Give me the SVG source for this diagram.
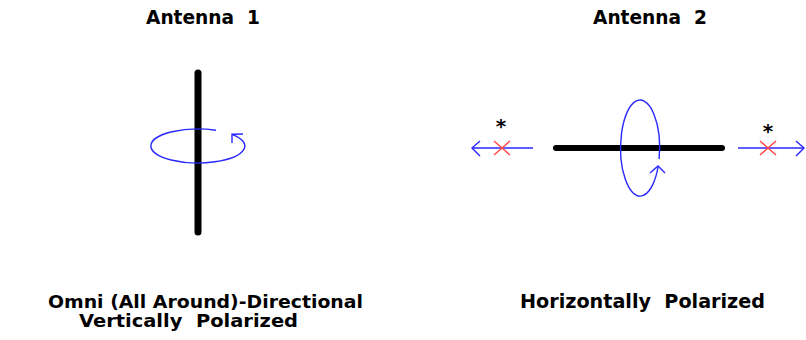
<svg xmlns="http://www.w3.org/2000/svg" width="806" height="340" viewBox="0 0 806 340">
<style>
.t{font-family:"DejaVu Sans",Verdana,sans-serif;font-weight:bold;font-size:19px;fill:#000;white-space:pre}
.s{font-size:18px}
.bar{stroke:#000;stroke-linecap:round;fill:none}
.blue{stroke:#2828ff;stroke-width:1.4;fill:none}
.red{stroke:#ff4848;stroke-width:1.4;fill:none}
.ast{font-family:"DejaVu Sans",sans-serif;font-weight:bold;font-size:20px;fill:#000;text-anchor:middle}
</style>
<rect width="806" height="340" fill="#fff"/>
<g id="antenna1">
<text class="t" x="146" y="24" textLength="114" lengthAdjust="spacingAndGlyphs">Antenna  1</text>
<line class="bar" x1="198" y1="73" x2="198" y2="232" stroke-width="7"/>
<path class="blue" d="M216 130.3 A47 17 0 1 0 232 134.3"/>
<path class="blue" d="M243 134 L232 134.3 L232 143"/>
<text class="t s" x="48" y="308" textLength="315" lengthAdjust="spacingAndGlyphs">Omni (All Around)-Directional</text>
<text class="t s" x="79" y="327" textLength="219" lengthAdjust="spacingAndGlyphs">Vertically  Polarized</text>
</g>
<g id="antenna2">
<text class="t" x="593" y="24" textLength="114" lengthAdjust="spacingAndGlyphs">Antenna  2</text>
<line class="bar" x1="556" y1="148" x2="722" y2="148" stroke-width="6"/>
<path class="blue" d="M659.1 159 A19.5 48 0 1 0 658.2 166"/>
<path class="blue" d="M650 173 L658 166 L665 173"/>
<text class="t" x="520" y="308" textLength="245" lengthAdjust="spacingAndGlyphs">Horizontally  Polarized</text>
</g>
<g id="connectors">
<g id="left-wave">
<line class="blue" x1="472" y1="148" x2="533" y2="148"/>
<path class="blue" d="M480 141 L472 148 L480 156"/>
<path class="red" d="M494 141 L510 155 M494 155 L510 141"/>
<text class="ast" x="501" y="133">*</text>
</g>
<g id="right-wave">
<line class="blue" x1="738" y1="148" x2="804" y2="148"/>
<path class="blue" d="M796 141 L804 148 L796 156"/>
<path class="red" d="M760 141 L776 155 M760 155 L776 141"/>
<text class="ast" x="768" y="138">*</text>
</g>
</g>
</svg>
